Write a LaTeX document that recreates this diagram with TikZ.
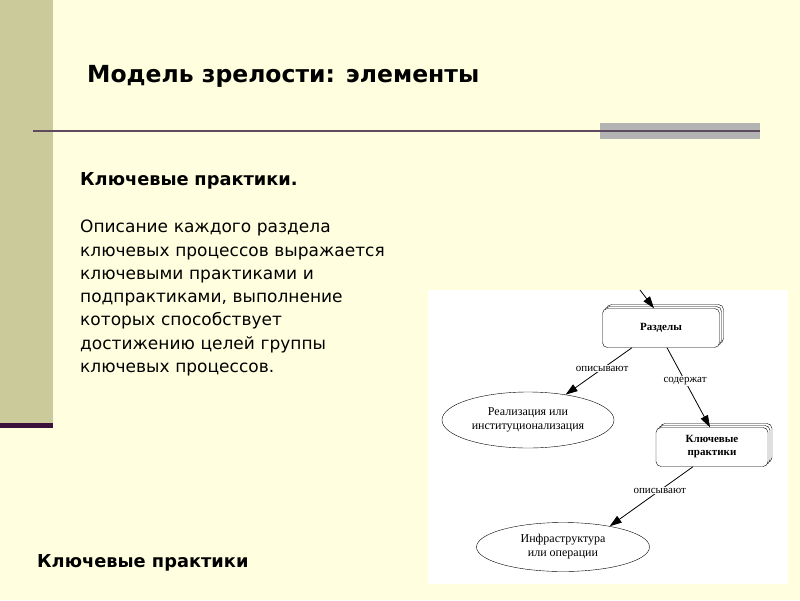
\documentclass[tikz,border=0pt]{standalone}
\usepackage{fontspec}
\usetikzlibrary{arrows.meta, shapes.geometric, shadows}

\newfontfamily\slidefont{DejaVu Sans}
\newfontfamily\figfont{Liberation Serif}

\definecolor{slidebg}{HTML}{FFFFE0}
\definecolor{bandcol}{HTML}{CACA9A}
\definecolor{rulecol}{HTML}{5E4C5E}
\definecolor{barcol}{HTML}{3B103B}
\definecolor{graycol}{HTML}{B3B3B3}

\begin{document}
\begin{tikzpicture}[x=1pt, y=-1pt,
		part/.style={draw, fill=white, rounded corners=5pt, inner sep=0pt,
			minimum width=112pt, minimum height=39pt, align=center,
			copy shadow={shadow xshift=4pt, shadow yshift=4pt},
			copy shadow={shadow xshift=2pt, shadow yshift=2pt},
			font=\figfont\bfseries\fontsize{11}{13}\selectfont},
		oval/.style={draw, fill=white, ellipse, inner sep=0pt, align=center,
			font=\figfont\fontsize{12}{14}\selectfont},
		link/.style={line width=0.8pt, -{Triangle[length=12pt, width=8pt]}},
		lbl/.style={fill=white, inner sep=1pt, font=\figfont\fontsize{11}{12}\selectfont}]
		\def\w{800};
		\def\h{600};
		\def\bandw{53};

		\useasboundingbox (0,0) rectangle (\w,\h);
		\fill[slidebg] (0,0) rectangle (\w,\h);

		\begin{scope}
			\fill[bandcol] (0,0) rectangle (\bandw,423);
			\fill[barcol] (0,423) rectangle (\bandw,428);

			\fill[graycol] (600,123) rectangle (760,139);
			\draw[rulecol, line width=2pt] (33,131) -- (760,131);
		\end{scope}

		\node [anchor=base west, inner sep=0pt, font=\slidefont\bfseries\fontsize{23.5}{28}\selectfont] (title) at (87,82) {Модель зрелости: элементы};

		\node [anchor=base west, inner sep=0pt, text width=400pt, align=left,
			font=\slidefont\fontsize{17}{23.3}\selectfont] (body) at (80,185)
			{{\bfseries\fontsize{17.8}{23.3}\selectfont Ключевые практики.}\\[24.4pt]
			Описание каждого раздела\\
			ключевых процессов выражается\\
			ключевыми практиками и\\
			подпрактиками, выполнение\\
			которых способствует\\
			достижению целей группы\\
			ключевых процессов.};

		\node [anchor=base west, inner sep=0pt, font=\slidefont\bfseries\fontsize{17.8}{22}\selectfont] (footer) at (37,567) {Ключевые практики};

		\begin{scope}
			\fill[white] (428,290) rectangle (788,584);

			\node [part, minimum width=117pt] (razd) at (661,328) {Разделы};
			\node [part] (kp) at (712,447) {Ключевые\\практики};

			\node [oval, minimum width=172pt, minimum height=56pt] (real) at (528,420) {Реализация или\\институционализация};
			\node [oval, minimum width=173pt, minimum height=49pt] (infra) at (563,547) {Инфраструктура\\или операции};

			\coordinate (src) at (640,290);
			\draw[link] (src) -- ([xshift=-7pt]razd.north);

			\draw[link] ([xshift=-29pt]razd.south) -- (real.34) node [lbl, pos=.45] {описывают};
			\draw[link] ([xshift=6pt]razd.south) -- ([xshift=-2pt]kp.north) node [lbl, pos=.42] {содержат};
			\draw[link] ([xshift=-19pt]kp.south) -- (infra.24) node [lbl, pos=.4] {описывают};
		\end{scope}
	\end{tikzpicture}
\end{document}
